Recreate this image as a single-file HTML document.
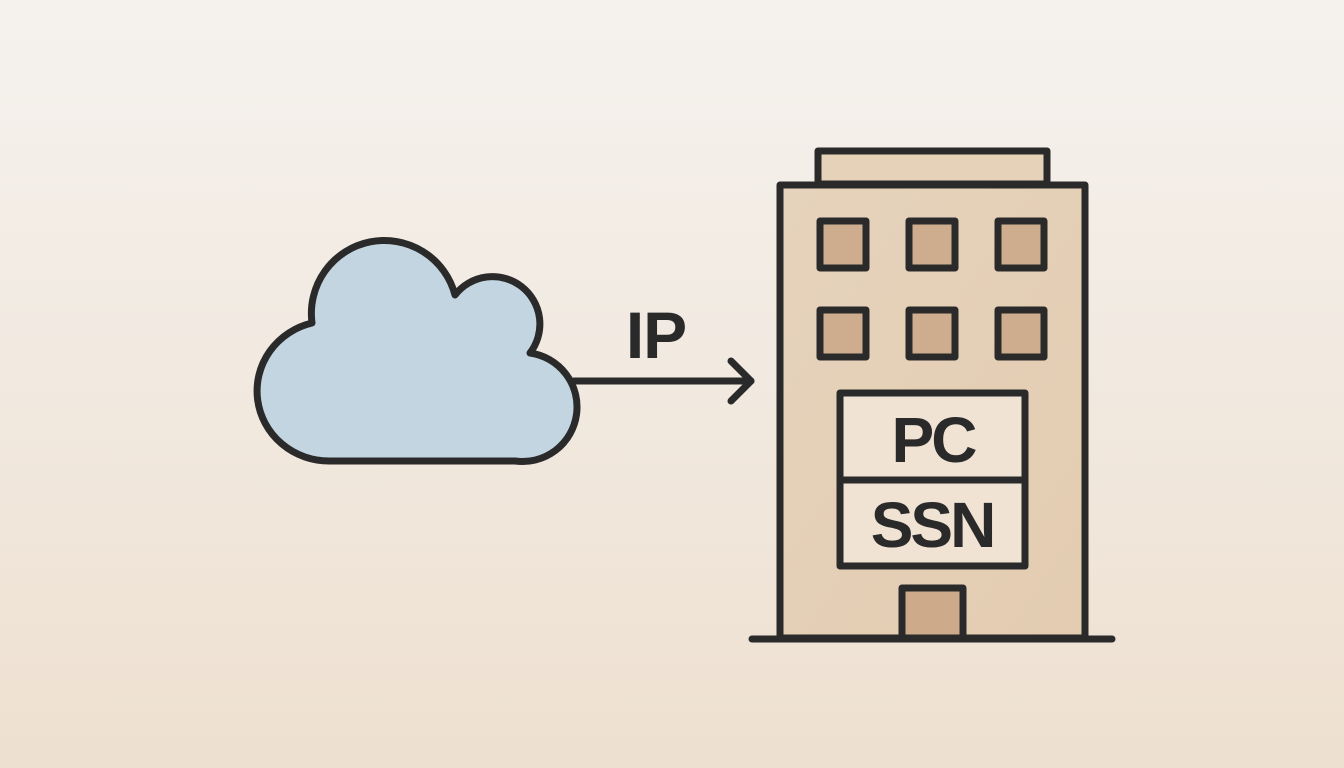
<!DOCTYPE html>
<html><head><meta charset="utf-8"><style>
html,body{margin:0;padding:0;width:1344px;height:768px;overflow:hidden}
body{background:linear-gradient(#f5f2ee 0%,#f1e8de 55%,#eee0d0 100%)}
svg{display:block}
text{font-family:"Liberation Sans",sans-serif;font-weight:bold;fill:#2a2a2a}
</style></head><body>
<svg width="1344" height="768" viewBox="0 0 1344 768">
<defs>
<linearGradient id="b" x1="0" y1="0" x2="1" y2="1"><stop offset="0" stop-color="#e6d3bc"/><stop offset="1" stop-color="#e3ccb1"/></linearGradient>
</defs>
<g stroke="#2a2a2a" stroke-width="7" stroke-linejoin="round" stroke-linecap="round">
<path d="M330 461 A72 70 0 0 1 312 323 A73 73 0 0 1 455 295 A47 47 0 0 1 530 353 A54 54 0 0 1 515 461 Z" fill="#c3d5e1"/>
<line x1="574" y1="381" x2="751" y2="381"/>
<polyline points="731,361 751,381 731,401" fill="none"/>
<rect x="818" y="151" width="229" height="33" fill="#e6d2b9"/>
<rect x="780" y="185" width="305" height="453" fill="url(#b)"/>
<rect x="820" y="221" width="46" height="47" fill="#cdad8d"/>
<rect x="909" y="221" width="46" height="47" fill="#cdad8d"/>
<rect x="998" y="221" width="46" height="47" fill="#cdad8d"/>
<rect x="820" y="310" width="46" height="47" fill="#cdad8d"/>
<rect x="909" y="310" width="46" height="47" fill="#cdad8d"/>
<rect x="998" y="310" width="46" height="47" fill="#cdad8d"/>
<rect x="840" y="393" width="185" height="173" fill="#f0e3d4"/>
<line x1="840" y1="480" x2="1025" y2="480"/>
<rect x="902" y="588" width="61" height="50" fill="#cdab8a"/>
<line x1="752" y1="639" x2="1112" y2="639"/>
</g>
<text x="656" y="358" font-size="66" text-anchor="middle" letter-spacing="-1">IP</text>
<text x="933" y="462" font-size="64" text-anchor="middle" letter-spacing="-3">PC</text>
<text x="932" y="547" font-size="64" text-anchor="middle" letter-spacing="-3">SSN</text>
</svg>
</body></html>
